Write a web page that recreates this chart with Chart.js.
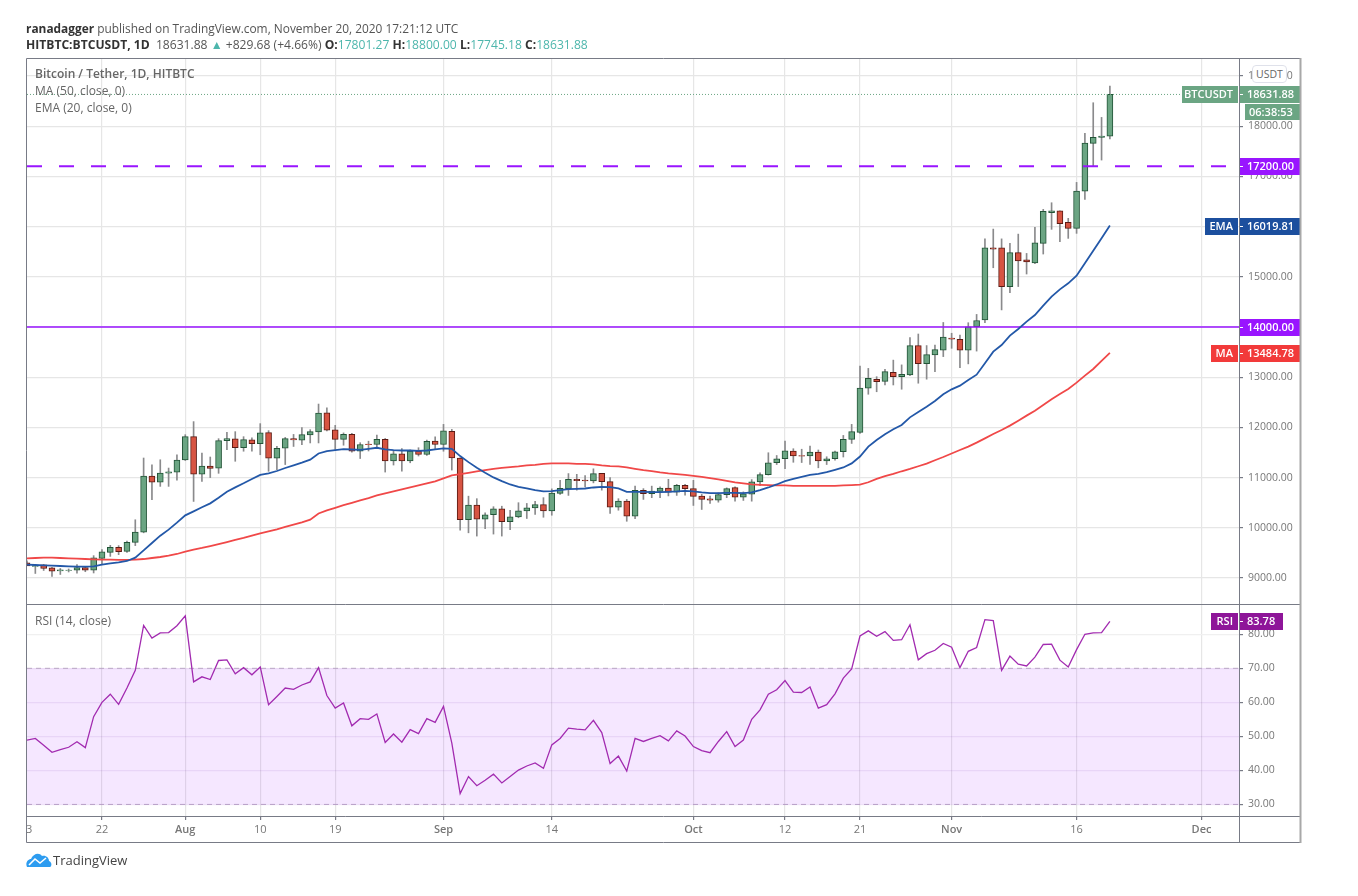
<!DOCTYPE html>
<html>
<head>
<meta charset="utf-8">
<title>BTCUSDT</title>
<script src="https://cdn.jsdelivr.net/npm/chart.js@4"></script>
<style>
  html, body { margin: 0; padding: 0; background: #fff; }
  body { width: 1358px; height: 896px; position: relative; overflow: hidden; font-family: "Open Sans", sans-serif; }
  canvas { position: absolute; left: 0; top: 0; }
  .txt { position: absolute; white-space: nowrap; color: #555; line-height: 16px; }
  .txt b { color: #333; font-weight: 700; }
  .up { color: #4db6ac; }
</style>
</head>
<body>
<canvas id="chart" width="1358" height="896"></canvas>
<div class="txt" style="left:26px;top:20px;font-size:11.9px"><b>ranadagger</b> published on TradingView.com, November 20, 2020 17:21:12 UTC</div>
<div class="txt" style="left:26px;top:37px;font-size:12.1px"><b>HITBTC:BTCUSDT, 1D</b>&nbsp; 18631.88 <span class="up">▲</span> +829.68 (+4.66%) <b>O:</b><span class="up">17801.27</span> <b>H:</b><span class="up">18800.00</span> <b>L:</b><span class="up">17745.18</span> <b>C:</b><span class="up">18631.88</span></div>
<div class="txt" style="left:35px;top:66px;font-size:12px;font-weight:600;color:#666">Bitcoin / Tether, 1D, HITBTC</div>
<div class="txt" style="left:35px;top:83px;font-size:12px;color:#666">MA (50, close, 0)</div>
<div class="txt" style="left:35px;top:100px;font-size:12px;color:#666">EMA (20, close, 0)</div>
<div class="txt" style="left:35px;top:613px;font-size:12px;color:#666">RSI (14, close)</div>
<div class="txt" style="left:1252px;top:65px;width:33px;height:16px;text-align:center;font-size:10.5px;color:#666;background:#fff;border:1px solid #dfe1ea;border-radius:4px">USDT</div>
<svg style="position:absolute;left:26px;top:852px" width="26" height="16" viewBox="0 0 26 16">
  <path d="M1 15 C-1 11 2 7 5 7 C7 2 13 0 16 4 C20 3 23 6 23 9 C26 10 26 14 24 15 Z" fill="#2d9cf0"/>
  <path d="M3 13 L9 7 L14 11 L20 6" stroke="#fff" stroke-width="1.6" fill="none"/>
</svg>
<div class="txt" style="left:53px;top:852px;font-size:13px;color:#444">TradingView</div>
<script>
// daily candles, Jul 13 to Nov 20 2020
const opens = [9300,9230,9260,9200,9140,9150,9155,9205,9155,9390,9510,9610,9530,9710,9915,11030,10910,11090,11110,11350,
  11815,11070,11230,11190,11735,11770,11595,11750,11675,11895,11385,11585,11775,11745,11850,11910,12290,11950,11760,11860,
  11525,11670,11660,11760,11330,11475,11330,11530,11460,11725,11660,11920,11390,10160,10450,10170,10260,10380,10120,10215,
  10335,10395,10460,10335,10685,10780,10965,10950,10935,11085,10920,10410,10530,10230,10745,10680,10725,10790,10710,10845,
  10780,10630,10575,10550,10660,10800,10610,10670,10915,11060,11295,11375,11530,11440,11430,11510,11330,11375,11515,11760,
  11900,12780,12955,12915,13095,13010,13045,13630,13270,13445,13540,13780,13755,13540,14005,14140,15575,15575,14805,15480,
  15340,15275,15665,16276,16316,16084,15964,16707,17657,17777,17801.27];
const highs = [9340,9260,9270,9210,9190,9180,9265,9230,9445,9565,9650,9645,9735,10160,11390,11255,11355,11190,11455,11855,
  12115,11490,11410,11775,11900,11915,11815,11790,12075,11935,11625,11800,11860,11995,11955,12465,12390,12040,11890,11880,
  11695,11725,11845,11780,11525,11580,11550,11595,11745,11810,12060,11960,11395,10630,10580,10300,10420,10430,10350,10500,
  10485,10525,10600,10775,10945,11080,11065,11040,11175,11085,11000,10580,10565,10830,10780,10830,10815,10965,10865,10865,
  10945,10665,10630,10695,10795,10815,10715,10960,11095,11495,11440,11725,11575,11565,11630,11550,11415,11530,11840,12060,
  13220,13175,13010,13155,13340,13245,13790,13860,13630,13640,14090,13875,13840,14085,14250,15755,15950,15755,15665,15850,
  15465,15985,16343,16475,16316,16164,16880,17857,18467,18175,18800];
const lows = [9270,9090,9150,9030,9070,9120,9095,9125,9100,9265,9430,9465,9510,9645,9900,10560,10825,10825,10950,11340,
  10525,10925,11000,11085,11555,11325,11525,11525,11455,11125,11160,11260,11620,11655,11690,11690,11930,11560,11645,11505,
  11380,11530,11580,11110,11250,11130,11295,11430,11440,11560,11525,11150,9955,9900,9835,9985,9875,9835,9965,10200,
  10185,10265,10210,10250,10665,10645,10750,10815,10895,10750,10285,10350,10130,10180,10565,10600,10600,10635,10645,10650,
  10445,10365,10485,10510,10600,10530,10545,10530,10840,11050,11260,11180,11305,11300,11260,11195,11260,11345,11410,11680,
  11880,12660,12710,12845,12845,12760,13030,12880,12960,13110,13410,13575,13190,13265,13520,14085,15180,14340,14685,14805,
  15055,15260,15453,15945,15700,15765,15865,16540,17206,17325,17745.18];
const closes = [9240,9245,9190,9135,9165,9160,9205,9155,9400,9520,9610,9525,9710,9915,11030,10910,11090,11115,11350,11815,
  11070,11230,11185,11735,11775,11595,11755,11675,11890,11385,11585,11775,11750,11855,11915,12285,11945,11760,11860,11525,
  11660,11655,11760,11330,11475,11330,11530,11460,11720,11660,11930,11390,10160,10450,10170,10260,10380,10120,10220,10340,
  10400,10460,10335,10690,10785,10965,10940,10935,11080,10920,10410,10530,10230,10745,10680,10730,10790,10710,10845,10780,
  10625,10565,10550,10660,10780,10610,10675,10915,11060,11295,11375,11535,11430,11425,11510,11330,11375,11515,11760,11915,
  12785,12975,12910,13110,13010,13055,13630,13270,13450,13550,13800,13755,13540,14005,14130,15575,15550,14805,15480,15315,
  15295,15675,16303,16316,16057,15964,16707,17664,17777,17803,18631.88];
const ema20 = [9266,9259,9252,9246,9239,9232,9226,9226,9232,9266,9292,9312,9339,9405,9551,9697,9843,9963,10102,10248,
  10328,10408,10487,10600,10720,10806,10886,10972,11052,11085,11131,11191,11244,11297,11357,11480,11527,11547,11567,11560,
  11554,11574,11594,11560,11547,11540,11540,11534,11540,11560,11580,11574,11428,11308,11195,11096,11003,10930,10863,10817,
  10783,10750,10724,10730,10750,10770,10777,10783,10803,10817,10810,10783,10717,10717,10717,10710,10710,10717,10724,10737,
  10724,10704,10690,10690,10697,10697,10690,10704,10750,10803,10863,10930,10976,11016,11056,11076,11109,11156,11202,11282,
  11420,11616,11749,11862,11962,12048,12200,12307,12413,12526,12659,12758,12831,12944,13050,13276,13509,13641,13827,13960,
  14106,14239,14425,14604,14750,14870,15022,15268,15520,15766,16019.81];
const ma50 = [9392,9398,9405,9405,9398,9392,9385,9378,9372,9365,9365,9359,9359,9365,9378,9398,9418,9445,9478,9525,
  9564,9598,9637,9677,9717,9757,9797,9843,9890,9930,9969,10016,10062,10109,10162,10285,10345,10398,10451,10498,
  10544,10591,10644,10684,10724,10764,10803,10843,10883,10923,10983,11042,11069,11096,11122,11149,11175,11195,11208,11222,
  11242,11255,11275,11282,11282,11282,11275,11275,11262,11242,11228,11222,11202,11175,11149,11129,11102,11082,11069,11056,
  11036,11016,10989,10963,10936,10903,10883,10863,10856,10850,10843,10843,10836,10836,10836,10836,10836,10836,10843,10850,
  10860,10907,10973,11027,11073,11126,11173,11226,11279,11345,11410,11480,11550,11616,11696,11782,11868,11948,12035,12134,
  12234,12333,12446,12559,12665,12765,12891,13031,13163,13323,13484.78];
const rsi14 = [48.9,49.4,47.4,45.3,46.1,46.8,48.4,46.7,55.8,60.0,62.4,59.4,64.2,69.4,82.6,78.9,80.4,80.5,82.5,85.4,
  66.0,67.5,66.7,72.3,72.5,68.4,70.2,68.1,70.4,59.3,61.7,64.2,63.8,65.1,66.0,70.2,62.0,58.3,59.8,53.1,
  55.2,55.0,56.6,48.2,50.7,48.3,52.0,50.8,55.2,54.1,58.8,48.0,33.2,38.2,35.5,37.1,38.9,36.3,38.2,40.1,
  41.3,42.2,40.6,47.5,49.4,52.4,52.1,51.9,54.7,51.1,42.0,44.2,39.8,49.4,48.5,49.4,50.2,48.7,51.6,50.1,
  47.0,45.8,45.2,48.5,51.4,47.0,48.9,55.0,57.8,62.4,63.7,66.4,63.0,62.9,64.5,58.3,59.3,62.5,67.1,69.8,
  79.5,81.0,79.4,80.8,78.2,78.4,82.8,72.5,74.3,75.3,77.3,76.2,70.2,75.0,76.1,84.3,84.0,69.4,73.6,71.2,
  70.7,73.3,77.0,77.1,72.4,70.4,75.5,80.0,80.4,80.5,83.78];

const tickLabels = ['3','22','Aug','10','19','Sep','14','Oct','12','21','Nov','16','Dec'];
const tickDays = [0.25,9,19,28,37,50,63,80,91,100,111,126,141];
const monthLabels = ['Aug','Sep','Oct','Nov','Dec'];
const priceTicks = [9000,10000,11000,12000,13000,14000,15000,16000,17000,18000,19000];
const rsiTicks = [30,40,50,60,70,80];
const lastPrice = 18631.88;
const resistance = 17200;
const support = 14000;
const rsiUpper = 70;
const rsiLower = 30;

const xMax = 145.5;
const upFill = '#6ba583', downFill = '#d75442', upEdge = '#225437', downEdge = '#5b1a13';
const isUp = opens.map((o, i) => closes[i] >= o);
const xy = arr => arr.map((v, i) => ({ x: i, y: v }));
const hline = v => [{ x: 0, y: v }, { x: xMax, y: v }];

// axis price tags drawn on top of the tick labels
const tagsPlugin = {
  id: 'tags',
  afterDraw(chart) {
    const { ctx, chartArea: a, scales } = chart;
    const tag = (scale, v, bg, label, text, labelW, right) => {
      const y = Math.round(scale.getPixelForValue(v));
      ctx.fillStyle = bg;
      ctx.fillRect(a.right, y - 8, (right || 1300) - a.right, 17);
      if (label) ctx.fillRect(a.right - labelW - 1, y - 8, labelW, 17);
      ctx.fillStyle = '#fff';
      ctx.fillRect(a.right, y, 4, 1);
      ctx.font = '600 11px "Open Sans"';
      ctx.textBaseline = 'middle';
      ctx.textAlign = 'left';
      ctx.fillText(text, a.right + 8, y + 1);
      if (label) { ctx.textAlign = 'right'; ctx.fillText(label, a.right - 6, y + 1); }
    };
    tag(scales.y, lastPrice, '#6ba583', 'BTCUSDT', '18631.88', 56);
    ctx.fillStyle = '#6ba583';
    ctx.fillRect(1245, 104, 55, 16);
    ctx.fillStyle = '#fff';
    ctx.textAlign = 'left';
    ctx.fillText('06:38:53', 1249, 112.5);
    tag(scales.y, resistance, '#9915ff', '', '17200.00');
    tag(scales.y, ema20[ema20.length - 1], '#1c4f9e', 'EMA', '16019.81', 33);
    tag(scales.y, support, '#9915ff', '', '14000.00');
    tag(scales.y, ma50[ma50.length - 1], '#f23a3a', 'MA', '13484.78', 27);
    tag(scales.yRsi, rsi14[rsi14.length - 1], '#8e1599', 'RSI', '83.78', 27, 1283);

    // pane frames
    ctx.strokeStyle = '#787b86';
    ctx.lineWidth = 1;
    const ySplit = Math.round(scales.y.bottom) + 0.5;
    ctx.beginPath();
    ctx.moveTo(a.left - 0.5, 58.5); ctx.lineTo(1300.5, 58.5);
    ctx.moveTo(a.left - 0.5, 58.5); ctx.lineTo(a.left - 0.5, 842.5); ctx.lineTo(1300.5, 842.5);
    ctx.moveTo(a.left, ySplit); ctx.lineTo(1300, ySplit);
    ctx.moveTo(a.left, a.bottom + 0.5); ctx.lineTo(1300, a.bottom + 0.5);
    ctx.moveTo(a.right + 0.5, 58); ctx.lineTo(a.right + 0.5, 842);
    ctx.stroke();
    ctx.strokeStyle = '#a8a8a8';
    ctx.lineWidth = 2;
    ctx.beginPath();
    ctx.moveTo(1300.5, 58); ctx.lineTo(1300.5, 843);
    ctx.stroke();
  }
};

new Chart(document.getElementById('chart'), {
  data: {
    datasets: [
      { type: 'line', label: 'RSI band', data: hline(rsiUpper), yAxisID: 'yRsi', order: 20, borderColor: '#b9a7c4', borderWidth: 1, borderDash: [5, 4], pointRadius: 0, fill: '+1', backgroundColor: 'rgba(153,21,255,0.1)' },
      { type: 'line', label: 'RSI low', data: hline(rsiLower), yAxisID: 'yRsi', order: 20, borderColor: '#b9a7c4', borderWidth: 1, borderDash: [5, 4], pointRadius: 0 },
      { type: 'bar', label: 'wick', data: opens.map((o, i) => ({ x: i, y: [lows[i], highs[i]] })), yAxisID: 'y', order: 12, grouped: false, barThickness: 1, backgroundColor: '#8a8a8c' },
      { type: 'bar', label: 'BTCUSDT', data: opens.map((o, i) => ({ x: i, y: [o, closes[i]] })), yAxisID: 'y', order: 11, grouped: false, barThickness: 6,
        backgroundColor: isUp.map(u => u ? upFill : downFill), borderColor: isUp.map(u => u ? upEdge : downEdge), borderWidth: 1, borderSkipped: false },
      { type: 'line', label: 'last', data: hline(lastPrice), yAxisID: 'y', order: 6, borderColor: '#6ba583', borderWidth: 1, borderDash: [1, 2], pointRadius: 0 },
      { type: 'line', label: '17200', data: hline(resistance), yAxisID: 'y', order: 5, borderColor: '#9915ff', borderWidth: 2, borderDash: [15, 17], pointRadius: 0 },
      { type: 'line', label: '14000', data: hline(support), yAxisID: 'y', order: 5, borderColor: '#9915ff', borderWidth: 1.6, pointRadius: 0 },
      { type: 'line', label: 'MA', data: xy(ma50), yAxisID: 'y', order: 4, borderColor: '#f04848', borderWidth: 1.8, pointRadius: 0, tension: 0 },
      { type: 'line', label: 'EMA', data: xy(ema20), yAxisID: 'y', order: 3, borderColor: '#2358a8', borderWidth: 1.8, pointRadius: 0, tension: 0 },
      { type: 'line', label: 'RSI', data: xy(rsi14), yAxisID: 'yRsi', order: 2, borderColor: '#a22bb0', borderWidth: 1.3, pointRadius: 0, tension: 0 }
    ]
  },
  options: {
    responsive: false,
    animation: false,
    events: [],
    layout: { padding: { left: 27, right: 58, top: 58, bottom: 54 } },
    plugins: { legend: { display: false }, tooltip: { enabled: false } },
    scales: {
      x: {
        type: 'linear', min: 0, max: xMax, offset: false,
        afterBuildTicks: s => { s.ticks = tickDays.map(v => ({ value: v })); },
        afterFit: s => { s.height = 26; },
        grid: {
          offset: false,
          color: c => c.index === 0 ? 'rgba(0,0,0,0)' : '#e6e6e6',
          tickColor: c => c.index === 0 ? 'rgba(0,0,0,0)' : '#787b86',
          tickLength: 4, lineWidth: 1.2
        },
        border: { display: false },
        ticks: {
          autoSkip: false, maxRotation: 0, padding: 3, color: '#777',
          font: c => ({ family: 'Open Sans', size: 11, weight: monthLabels.includes(tickLabels[c.index]) ? '600' : '400' }),
          callback: (v, i) => tickLabels[i]
        }
      },
      y: {
        position: 'right', stack: 'panes', stackWeight: 546, min: 8482, max: 19358,
        afterBuildTicks: s => { s.ticks = priceTicks.map(v => ({ value: v })); },
        afterFit: s => { s.width = 61; },
        grid: { color: '#e6e6e6', lineWidth: 1.2, tickLength: 4, tickColor: '#787b86' },
        border: { display: false },
        ticks: { autoSkip: false, padding: 5, color: '#777', font: { family: 'Open Sans', size: 10.5 }, callback: v => v.toFixed(2) }
      },
      yRsi: {
        axis: 'y', position: 'right', stack: 'panes', stackWeight: 212, min: 26.6, max: 88.9,
        afterBuildTicks: s => { s.ticks = rsiTicks.map(v => ({ value: v })); },
        afterFit: s => { s.width = 61; },
        grid: { color: c => c.tick && c.tick.value === 80 ? '#f0f0f0' : 'rgba(120,60,170,0.1)', lineWidth: 1.2, tickLength: 4, tickColor: '#787b86' },
        border: { display: false },
        ticks: { autoSkip: false, padding: 5, color: '#777', font: { family: 'Open Sans', size: 10.5 }, callback: v => v.toFixed(2) }
      }
    }
  },
  plugins: [tagsPlugin]
});
</script>
</body>
</html>
